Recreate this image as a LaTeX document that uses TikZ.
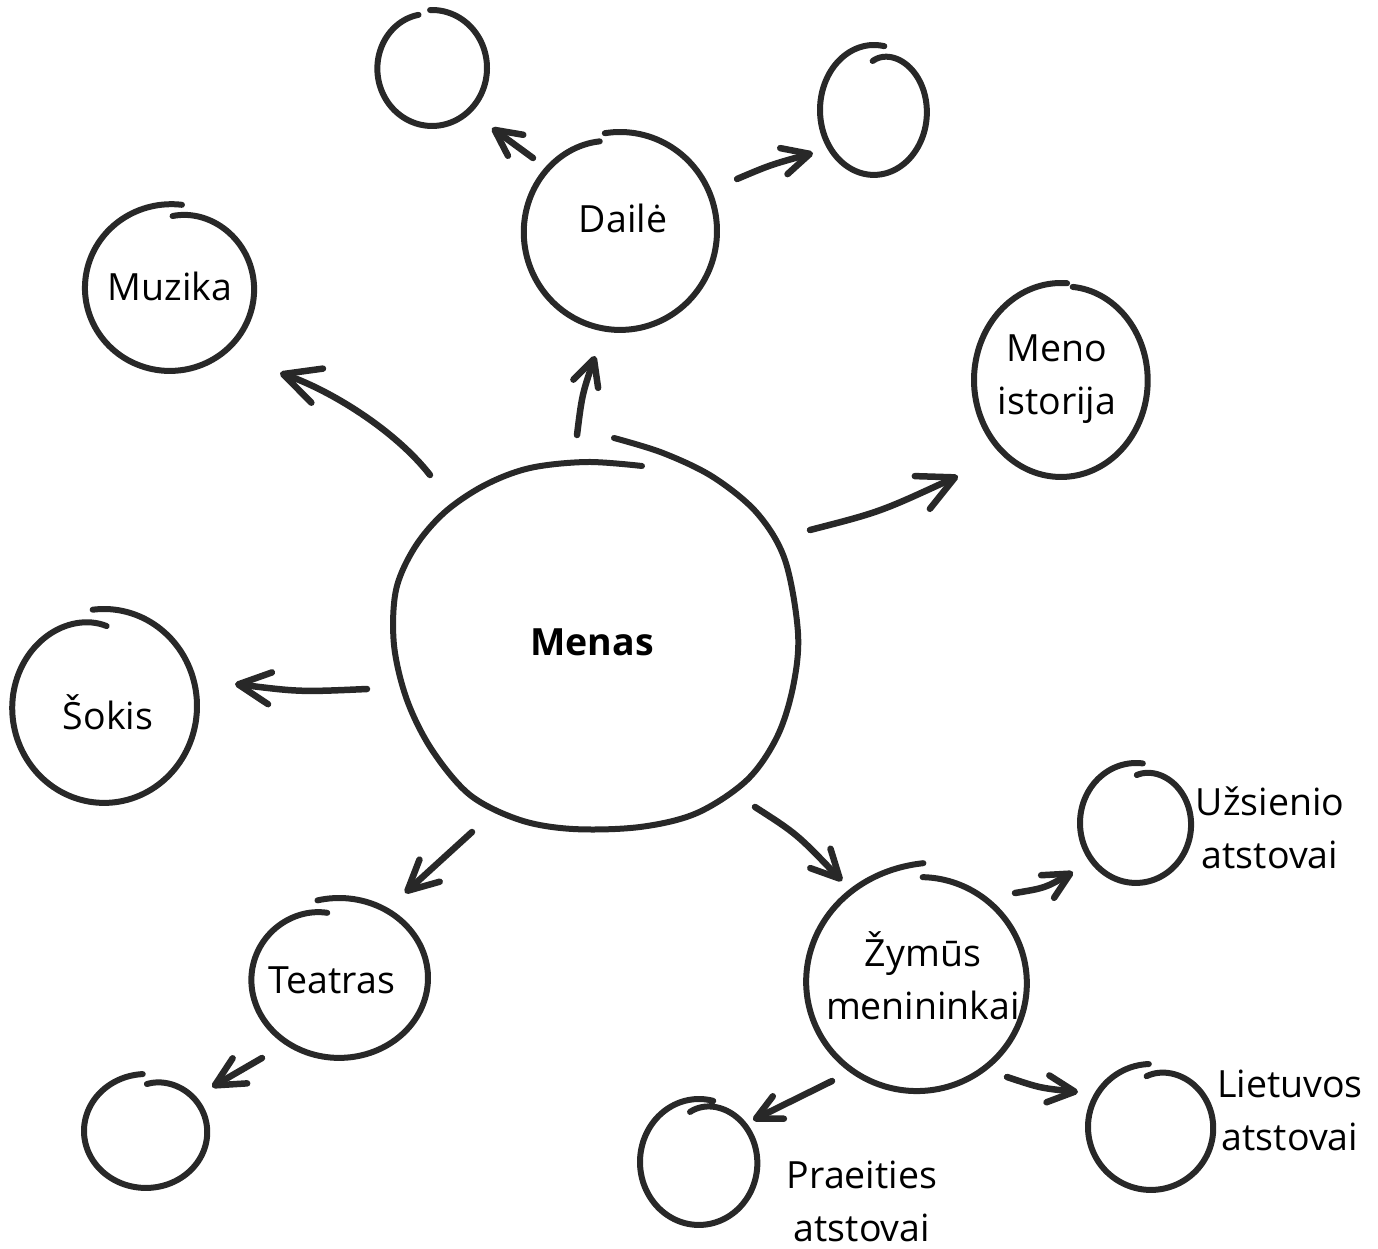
\documentclass[tikz,border=0pt]{standalone}
\usepackage{fontspec}
\setmainfont{Open Sans}
\usetikzlibrary{arrows.meta}
\definecolor{ink}{HTML}{282828}
\tikzset{
  pen/.style={draw=ink, line width=6pt, line cap=round, line join=round},
  arr/.style={pen, line width=6.5pt, -{Straight Barb[length=#1pt, width=#1pt, round]}},
  arr/.default=28,
  txt/.style={font=\fontsize{37.5}{53}\selectfont, text=black, inner sep=0pt, align=center, anchor=base},
}
\newcommand\handcirc[8]{%
  \draw[pen] plot[domain=#5:#6, samples=140, smooth, variable=\t]
   ({#1+(#3+(#7)*exp(-(\t-(#5))/35)+(#8)*exp(-((#6)-\t)/35))*cos(\t)},
    {#2+(#4+(#7)*exp(-(\t-(#5))/35)+(#8)*exp(-((#6)-\t)/35))*sin(\t)});}
\begin{document}
\begin{tikzpicture}[x=1pt, y=-1pt]
\useasboundingbox (0,0) rectangle (1378,1249);

% ---- circles ----
\draw[pen] plot[smooth, tension=0.55] coordinates {
 (614,438) (663,453) (713,477) (757,513) (785,560) (798,633) (793,687)
 (777,737) (747,780) (697,813) (640,827) (573,829) (520,820) (470,795)
 (432,750) (407,700) (394,645) (396,590) (415,547) (445,512) (485,485)
 (530,468) (587,462) (642,466)};
\handcirc{620}{231}{97}{99}{-99}{257}{0}{-7}      % Daile
\handcirc{170}{288}{85}{83}{-88}{278}{-11}{1}     % Muzika
\handcirc{432}{68}{55}{58}{-92}{255}{0}{-3}       % top-left
\handcirc{874}{110}{54}{65}{-92}{281}{-16}{0}     % top-right
\handcirc{1061}{380}{87}{97}{-82}{274}{-3}{0}     % Meno istorija
\handcirc{104}{706}{93}{97}{-97}{272}{0}{-17}     % Sokis
\handcirc{339}{978}{89}{80}{-104}{261}{0}{-14}    % Teatras
\handcirc{146}{1131}{62}{57}{-89}{267}{-10}{0}    % lower-left
\handcirc{917}{983}{110}{108}{-87}{273}{-2}{12}   % Zymus
\handcirc{699}{1162}{59}{63}{-101}{284}{-12}{0}   % Praeities
\handcirc{1136}{823}{56}{60}{-89}{277}{-12}{0}    % Uzsienio
\handcirc{1151}{1127}{63}{63}{-95}{268}{-12}{0}   % Lietuvos

% ---- labels (base = last line's baseline) ----
\node[txt, font=\fontsize{37.5}{53}\selectfont\bfseries] (menas) at (592,655) {Menas};
\node[txt] (daile) at (623,233) {Dailė};
\node[txt] (muzika) at (170,300) {Muzika};
\node[txt] (meno) at (1057,414) {Meno\\istorija};
\node[txt] (sokis) at (108,729) {Šokis};
\node[txt] (teatras) at (332,993) {Teatras};
\node[txt] (zymus) at (923,1019) {Žymūs\\menininkai};
\node[txt] (uzs) at (1270,868) {Užsienio\\atstovai};
\node[txt] (liet) at (1290,1150) {Lietuvos\\atstovai};
\node[txt] (praeit) at (862,1241) {Praeities\\atstovai};
\coordinate (tl) at (432,68);
\coordinate (tr) at (874,110);
\coordinate (ll) at (146,1131);
\coordinate (pc) at (699,1162);
\coordinate (uc) at (1136,823);
\coordinate (lc) at (1151,1127);

% ---- arrow ends ----
\coordinate (mMuz) at (430,475);   \coordinate (tMuz) at (280,373);
\coordinate (mDai) at (577,435);   \coordinate (tDai) at (595,356);
\coordinate (mMen) at (810,530);   \coordinate (tMen) at (958,476);
\coordinate (mSok) at (367,689);   \coordinate (tSok) at (235,684);
\coordinate (mTea) at (472,832);   \coordinate (tTea) at (405,893);
\coordinate (mZym) at (755,807);   \coordinate (tZym) at (842,881);
\coordinate (dTL) at (533,158);    \coordinate (tTL) at (492,128);
\coordinate (dTR) at (737,179);    \coordinate (tTR) at (813,153);
\coordinate (tLL0) at (262,1058);  \coordinate (tLL) at (212,1087);
\coordinate (zU0) at (1015,893);   \coordinate (tU) at (1073,872);
\coordinate (zL0) at (1007,1077);  \coordinate (tL) at (1078,1092);
\coordinate (zP0) at (832,1081);   \coordinate (tP) at (753,1120);

% ---- arrows ----
\draw[arr=36] (mMuz) .. controls (395,430) and (330,390) .. (tMuz);
\draw[arr=26] (mDai) .. controls (582,395) .. (tDai);
\draw[arr=36] (mMen) .. controls (880,512) .. (tMen);
\draw[arr=32] (mSok) .. controls (300,692) .. (tSok);
\draw[arr=30] (mTea) -- (tTea);
\draw[arr=28] (mZym) .. controls (797,834) .. (tZym);
\draw[arr=26] (dTL) -- (tTL);
\draw[arr=27] (dTR) .. controls (770,165) .. (tTR);
\draw[arr=29] (tLL0) -- (tLL);
\draw[arr=26] (zU0) .. controls (1045,888) .. (tU);
\draw[arr=27] (zL0) .. controls (1040,1088) .. (tL);
\draw[arr=25] (zP0) -- (tP);
\end{tikzpicture}
\end{document}
